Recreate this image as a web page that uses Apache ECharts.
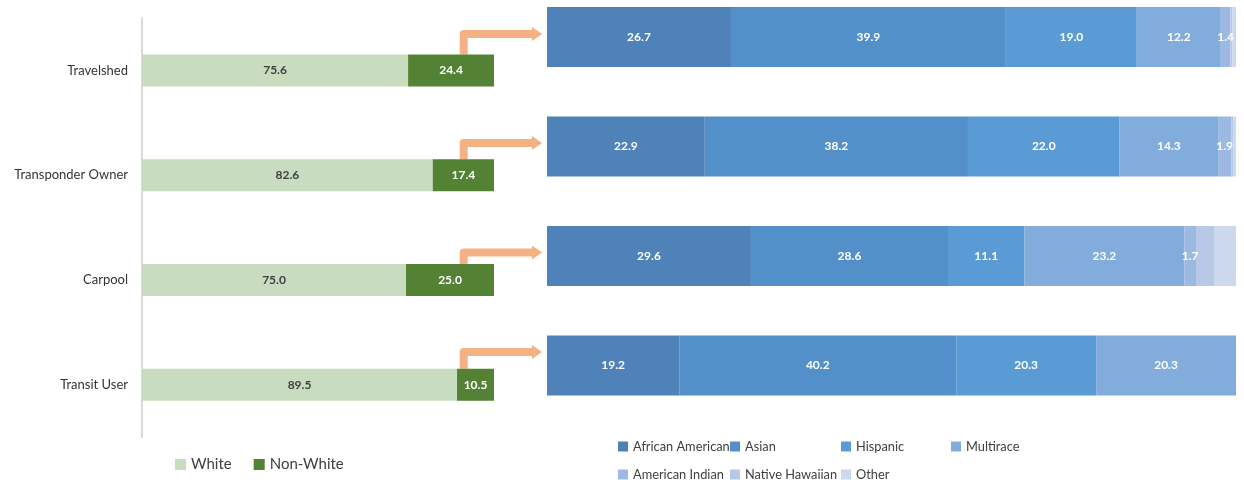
<!DOCTYPE html>
<html>
<head>
<meta charset="utf-8">
<script src="https://cdn.jsdelivr.net/npm/echarts@6/dist/echarts.min.js"></script>
<style>
html,body{margin:0;padding:0;background:#fff;}
#c{width:1244px;height:482px;}
</style>
</head>
<body>
<div id="c"></div>
<script>
const categories = ['Travelshed', 'Transponder Owner', 'Carpool', 'Transit User'];
const white = [75.6, 82.6, 75.0, 89.5];
const nonWhite = [24.4, 17.4, 25.0, 10.5];

const raceNames = ['African American', 'Asian', 'Hispanic', 'Multirace', 'American Indian', 'Native Hawaiian', 'Other'];
const africanAmerican = [26.7, 22.9, 29.6, 19.2];
const asian = [39.9, 38.2, 28.6, 40.2];
const hispanic = [19.0, 22.0, 11.1, 20.3];
const multirace = [12.2, 14.3, 23.2, 20.3];
const americanIndian = [1.4, 1.9, 1.7, 0];
const nativeHawaiian = [0.3, 0.3, 2.7, 0];
const other = [0.5, 0.4, 3.1, 0];
const raceLabelShown = [true, true, true, true, true, false, false];

const raceValues = [africanAmerican, asian, hispanic, multirace, americanIndian, nativeHawaiian, other];
const raceColors = ['#4e82b8', '#5390c9', '#5b9bd5', '#82acdb', '#9eb9e1', '#b6cae8', '#cbd8ee'];
const arrowLift = [3, 3.5, 3.5, 13.5];

const FONT = 'Lato, "Open Sans", sans-serif';
const chart = echarts.init(document.getElementById('c'));

const series = [
  {
    name: 'White', type: 'bar', stack: 'l', xAxisIndex: 0, yAxisIndex: 0, barWidth: 32,
    data: white, itemStyle: {color: '#c8dcbf'},
    label: {show: true, position: 'inside', color: '#404040', fontWeight: 'bold', fontSize: 12, fontFamily: FONT, formatter: p => p.value.toFixed(1)}
  },
  {
    name: 'Non-White', type: 'bar', stack: 'l', xAxisIndex: 0, yAxisIndex: 0, barWidth: 32,
    data: nonWhite, itemStyle: {color: '#548235'},
    label: {show: true, position: 'inside', color: '#fff', fontWeight: 'bold', fontSize: 12, fontFamily: FONT, formatter: p => p.value.toFixed(1)}
  }
];
raceNames.forEach((n, i) => {
  series.push({
    name: n, type: 'bar', stack: 'r', xAxisIndex: 1, yAxisIndex: 1, barWidth: 60,
    data: raceValues[i], itemStyle: {color: raceColors[i]},
    label: {show: raceLabelShown[i], position: 'inside', color: '#fff', fontWeight: 'bold', fontSize: 12, fontFamily: FONT,
      formatter: p => p.value > 0 ? p.value.toFixed(1) : ''}
  });
});

const raceLegendPos = [[613, 435], [725, 435], [836, 435], [946, 435], [613, 463], [725, 463], [836, 463]];
const legends = [{
  data: ['White', 'Non-White'], left: 170, top: 452, itemWidth: 11, itemHeight: 11, itemGap: 22,
  icon: 'rect', textStyle: {fontSize: 15, color: '#404040', fontFamily: FONT}
}];
raceNames.forEach((n, i) => {
  legends.push({
    data: [n], left: raceLegendPos[i][0], top: raceLegendPos[i][1], itemWidth: 10, itemHeight: 10, itemGap: 4,
    icon: 'rect', textStyle: {fontSize: 12.8, color: '#404040', fontFamily: FONT}
  });
});

chart.setOption({
  animation: false,
  legend: legends,
  grid: [
    {left: 142, top: 18, width: 352, height: 419},
    {left: 547, top: 37, width: 689, height: 328.5}
  ],
  xAxis: [
    {type: 'value', gridIndex: 0, min: 0, max: 100, show: false},
    {type: 'value', gridIndex: 1, min: 0, max: 100, show: false}
  ],
  yAxis: [
    {type: 'category', gridIndex: 0, data: categories, inverse: true,
      axisLine: {show: true, lineStyle: {color: '#d9d9d9', width: 2}}, axisTick: {show: false},
      axisLabel: {color: '#333', fontSize: 13, fontFamily: FONT, margin: 14}},
    {type: 'category', gridIndex: 1, data: categories, inverse: true, boundaryGap: false, show: false}
  ],
  series: series
});

const ARROW_X_VALUE = 91.4;
const els = [];
categories.forEach((c, i) => {
  const x = chart.convertToPixel({xAxisIndex: 0}, ARROW_X_VALUE);
  const yTop = chart.convertToPixel({yAxisIndex: 0}, c) - 16;
  const yH = chart.convertToPixel({yAxisIndex: 1}, c) - arrowLift[i];
  const xEnd = chart.convertToPixel({xAxisIndex: 1}, 0) - 5;
  els.push({
    type: 'polyline', silent: true,
    shape: {points: [[x, yTop], [x, yH], [xEnd - 8, yH]]},
    style: {stroke: '#f4b183', lineWidth: 8, fill: null, lineJoin: 'round'}
  });
  els.push({
    type: 'polygon', silent: true,
    shape: {points: [[xEnd - 10, yH - 7], [xEnd, yH], [xEnd - 10, yH + 7]]},
    style: {fill: '#f4b183'}
  });
});
chart.setOption({graphic: els});
</script>
</body>
</html>
